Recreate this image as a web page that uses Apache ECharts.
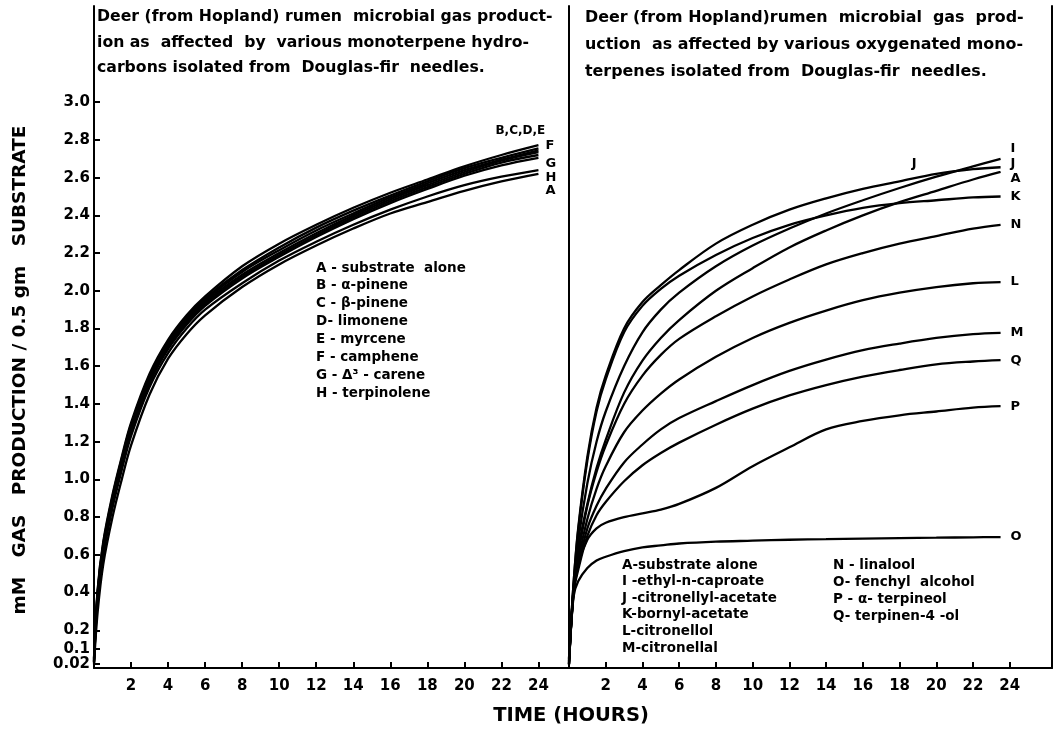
<!DOCTYPE html>
<html><head><meta charset="utf-8">
<script src="https://cdn.jsdelivr.net/npm/echarts@6/dist/echarts.min.js"></script>
<style>html,body{margin:0;padding:0;background:#fff}#c{width:1062px;height:729px}</style>
</head><body><div id="c"></div>
<script>
// ---- tick labels ----
const yTicks = [0.02, 0.1, 0.2, 0.4, 0.6, 0.8, 1.0, 1.2, 1.4, 1.6, 1.8, 2.0, 2.2, 2.4, 2.6, 2.8, 3.0];
const yTickLabels = ['0.02','0.1','0.2','0.4','0.6','0.8','1.0','1.2','1.4','1.6','1.8','2.0','2.2','2.4','2.6','2.8','3.0'];
const xTicks = [2, 4, 6, 8, 10, 12, 14, 16, 18, 20, 22, 24];

// ---- left panel: monoterpene hydrocarbons ----
const hoursLeft = [0, 0.2, 0.5, 1, 1.5, 2, 3, 4, 5, 6, 8, 10, 12, 14, 16, 18, 20, 22, 24];
const leftB = [0.05, 0.42, 0.67, 0.92, 1.12, 1.30, 1.56, 1.74, 1.87, 1.97, 2.13, 2.25, 2.35, 2.44, 2.52, 2.59, 2.66, 2.72, 2.772];
const leftC = [0.05, 0.41, 0.66, 0.91, 1.11, 1.29, 1.55, 1.73, 1.86, 1.96, 2.11, 2.23, 2.335, 2.425, 2.505, 2.58, 2.65, 2.705, 2.755];
const leftD = [0.04, 0.40, 0.65, 0.90, 1.10, 1.28, 1.54, 1.72, 1.85, 1.95, 2.10, 2.215, 2.32, 2.41, 2.495, 2.57, 2.64, 2.695, 2.745];
const leftE = [0.04, 0.40, 0.64, 0.89, 1.09, 1.27, 1.53, 1.71, 1.84, 1.94, 2.085, 2.20, 2.305, 2.40, 2.485, 2.56, 2.63, 2.69, 2.735];
const leftF = [0.03, 0.38, 0.62, 0.88, 1.08, 1.26, 1.52, 1.70, 1.83, 1.93, 2.075, 2.19, 2.295, 2.39, 2.475, 2.55, 2.62, 2.68, 2.72];
const leftG = [0.03, 0.37, 0.61, 0.87, 1.07, 1.25, 1.51, 1.69, 1.82, 1.92, 2.065, 2.18, 2.285, 2.38, 2.465, 2.54, 2.61, 2.665, 2.705];
const leftH = [0.03, 0.36, 0.60, 0.85, 1.05, 1.23, 1.49, 1.67, 1.80, 1.90, 2.04, 2.16, 2.26, 2.35, 2.43, 2.50, 2.56, 2.605, 2.64];
const leftA = [0.02, 0.30, 0.55, 0.80, 1.00, 1.18, 1.45, 1.64, 1.77, 1.87, 2.02, 2.14, 2.24, 2.33, 2.41, 2.47, 2.53, 2.58, 2.62];

// ---- right panel: oxygenated monoterpenes ----
const hoursRight = [0, 0.25, 0.5, 1, 1.5, 2, 3, 4, 5, 6, 8, 10, 12, 14, 16, 18, 20, 22, 23.5];
const rightJ = [0.05, 0.45, 0.74, 1.12, 1.38, 1.55, 1.80, 1.94, 2.03, 2.11, 2.25, 2.35, 2.43, 2.49, 2.54, 2.58, 2.62, 2.645, 2.655];
const rightK = [0.05, 0.45, 0.73, 1.10, 1.36, 1.53, 1.78, 1.92, 2.01, 2.08, 2.19, 2.28, 2.35, 2.40, 2.44, 2.465, 2.48, 2.495, 2.50];
const rightI = [0.04, 0.43, 0.67, 0.98, 1.20, 1.36, 1.60, 1.78, 1.90, 1.99, 2.13, 2.24, 2.33, 2.41, 2.48, 2.545, 2.605, 2.66, 2.70];
const rightA = [0.04, 0.42, 0.63, 0.87, 1.06, 1.21, 1.46, 1.63, 1.75, 1.845, 2.00, 2.12, 2.23, 2.32, 2.40, 2.47, 2.53, 2.59, 2.63];
const rightN = [0.03, 0.42, 0.60, 0.86, 1.04, 1.18, 1.40, 1.55, 1.66, 1.745, 1.865, 1.97, 2.06, 2.14, 2.20, 2.25, 2.29, 2.33, 2.35];
const rightL = [0.03, 0.41, 0.57, 0.79, 0.95, 1.07, 1.25, 1.365, 1.455, 1.53, 1.65, 1.75, 1.83, 1.895, 1.95, 1.99, 2.02, 2.04, 2.046];
const rightM = [0.02, 0.40, 0.54, 0.74, 0.86, 0.95, 1.09, 1.185, 1.265, 1.325, 1.415, 1.50, 1.575, 1.635, 1.685, 1.72, 1.75, 1.77, 1.777];
const rightQ = [0.02, 0.40, 0.52, 0.70, 0.81, 0.88, 0.99, 1.075, 1.14, 1.195, 1.29, 1.375, 1.445, 1.50, 1.545, 1.58, 1.61, 1.625, 1.632];
const rightP = [0.02, 0.40, 0.55, 0.68, 0.74, 0.77, 0.80, 0.82, 0.84, 0.87, 0.955, 1.07, 1.17, 1.265, 1.31, 1.34, 1.36, 1.38, 1.388];
const rightO = [0.02, 0.38, 0.46, 0.53, 0.57, 0.59, 0.62, 0.64, 0.65, 0.66, 0.67, 0.675, 0.68, 0.683, 0.686, 0.689, 0.691, 0.693, 0.694];

// ---- texts ----
const leftTitle = ['Deer (from Hopland) rumen  microbial gas product-',
                   'ion as  affected  by  various monoterpene hydro-',
                   'carbons isolated from  Douglas-fir  needles.'];
const rightTitle = ['Deer (from Hopland)rumen  microbial  gas  prod-',
                    'uction  as affected by various oxygenated mono-',
                    'terpenes isolated from  Douglas-fir  needles.'];
const leftLegend = ['A - substrate  alone', 'B - α-pinene', 'C - β-pinene', 'D- limonene',
                    'E - myrcene', 'F - camphene', 'G - Δ³ - carene', 'H - terpinolene'];
const rightLegend1 = ['A-substrate alone', 'I -ethyl-n-caproate', 'J -citronellyl-acetate',
                      'K-bornyl-acetate', 'L-citronellol', 'M-citronellal'];
const rightLegend2 = ['N - linalool', 'O- fenchyl  alcohol', 'P - α- terpineol', 'Q- terpinen-4 -ol'];
const xTitle = 'TIME (HOURS)';
const yTitle = 'mM   GAS   PRODUCTION / 0.5 gm   SUBSTRATE';

const FONT = 'DejaVu Sans';
const BLACK = '#000';

function pairs(hours, vals) { return hours.map((h, i) => [h, vals[i]]); }

function curve(name, grid, hours, vals, label, offset, size) {
  const s = {
    name: name, type: 'line', xAxisIndex: grid, yAxisIndex: grid,
    data: pairs(hours, vals), smooth: 0.35, showSymbol: false, symbol: 'none',
    lineStyle: { color: BLACK, width: 2.3 }, silent: true, z: 3,
  };
  if (label) {
    s.endLabel = { show: true, formatter: label, color: BLACK, fontFamily: FONT,
      fontWeight: 'bold', fontSize: size || 13, offset: offset || [0, 0], distance: 4 };
  }
  return s;
}

const series = [
  curve('L-A', 0, hoursLeft, leftA, 'A', [3, 17]),
  curve('L-H', 0, hoursLeft, leftH, 'H', [3, 8]),
  curve('L-G', 0, hoursLeft, leftG, 'G', [3, 6]),
  curve('L-F', 0, hoursLeft, leftF, 'F', [3, -9]),
  curve('L-E', 0, hoursLeft, leftE),
  curve('L-D', 0, hoursLeft, leftD),
  curve('L-C', 0, hoursLeft, leftC),
  curve('L-B', 0, hoursLeft, leftB, 'B,C,D,E', [-47, -14], 12),
  curve('R-O', 1, hoursRight, rightO, 'O', [6, 0]),
  curve('R-P', 1, hoursRight, rightP, 'P', [6, 0]),
  curve('R-Q', 1, hoursRight, rightQ, 'Q', [6, 0]),
  curve('R-M', 1, hoursRight, rightM, 'M', [6, 0]),
  curve('R-L', 1, hoursRight, rightL, 'L', [6, 0]),
  curve('R-N', 1, hoursRight, rightN, 'N', [6, 0]),
  curve('R-K', 1, hoursRight, rightK, 'K', [6, 0]),
  curve('R-A', 1, hoursRight, rightA, 'A', [6, 7]),
  curve('R-J', 1, hoursRight, rightJ, 'J', [6, -4]),
  curve('R-I', 1, hoursRight, rightI, 'I', [6, -10]),
];
// mid-curve "J" label on the right panel
series[16].markPoint = {
  symbol: 'circle', symbolSize: 0, silent: true,
  label: { show: true, formatter: 'J', color: BLACK, fontFamily: FONT, fontWeight: 'bold',
           fontSize: 13, position: 'inside', offset: [0, -15] },
  data: [{ coord: [18.8, 2.595] }]
};

function txt(x, y, text, size) {
  return {
    type: 'text', x: x, y: y, silent: true,
    style: { text: text, fill: BLACK, fontFamily: FONT, fontWeight: 'bold',
      fontSize: size, align: 'left', verticalAlign: 'middle',
      textAlign: 'left', textVerticalAlign: 'middle' }
  };
}
const graphics = [];
leftTitle.forEach((t, i) => graphics.push(txt(97, 17 + i * 25.5, t, 15.7)));
rightTitle.forEach((t, i) => graphics.push(txt(585, 18 + i * 27, t, 15.9)));
leftLegend.forEach((t, i) => graphics.push(txt(316, 268 + i * 17.9, t, 13.5)));
rightLegend1.forEach((t, i) => graphics.push(txt(622, 565 + i * 16.6, t, 13.5)));
rightLegend2.forEach((t, i) => graphics.push(txt(833, 565 + i * 17.2, t, 13.5)));
graphics.push({ type: 'text', x: 571, y: 716, silent: true,
  style: { text: xTitle, fill: BLACK, fontFamily: FONT, fontWeight: 'bold', fontSize: 19.5,
           align: 'center', verticalAlign: 'middle', textAlign: 'center', textVerticalAlign: 'middle' } });
graphics.push({ type: 'text', x: 20, y: 370, rotation: Math.PI / 2, silent: true,
  style: { text: yTitle, fill: BLACK, fontFamily: FONT, fontWeight: 'bold', fontSize: 18.5,
           align: 'center', verticalAlign: 'middle', textAlign: 'center', textVerticalAlign: 'middle' } });

const axisLine = { show: true, onZero: false, lineStyle: { color: BLACK, width: 2 } };
const tickLabel = { color: BLACK, fontFamily: FONT, fontWeight: 'bold', fontSize: 15 };

function xAxis(grid, max) {
  return {
    type: 'value', gridIndex: grid, min: 0, max: max, interval: 2,
    axisLine: axisLine, splitLine: { show: false },
    axisTick: { show: true, inside: true, length: 6, customValues: xTicks, lineStyle: { color: BLACK, width: 2 } },
    axisLabel: Object.assign({ show: true, margin: 11, customValues: xTicks }, tickLabel)
  };
}

const option = {
  animation: false,
  backgroundColor: '#fff',
  grid: [
    { left: 94, top: 6, width: 475, height: 662 },
    { left: 569, top: 6, width: 483, height: 662 }
  ],
  xAxis: [ xAxis(0, 25.65), xAxis(1, 26.3) ],
  yAxis: [
    { type: 'value', gridIndex: 0, min: 0, max: 3.51, axisLine: axisLine, splitLine: { show: false },
      axisTick: { show: true, inside: true, length: 6, customValues: yTicks, lineStyle: { color: BLACK, width: 2 } },
      axisLabel: Object.assign({ show: true, margin: 4, customValues: yTicks,
        formatter: function (v) {
          let best = 0;
          yTicks.forEach((t, i) => { if (Math.abs(t - v) < Math.abs(yTicks[best] - v)) best = i; });
          return yTickLabels[best];
        } }, tickLabel) },
    { type: 'value', gridIndex: 1, min: 0, max: 3.51, axisLine: axisLine, splitLine: { show: false },
      axisTick: { show: false }, axisLabel: { show: false } },
    { type: 'value', gridIndex: 1, position: 'right', min: 0, max: 3.51, axisLine: axisLine,
      splitLine: { show: false }, axisTick: { show: false }, axisLabel: { show: false } }
  ],
  series: series,
  graphic: graphics
};

const chart = echarts.init(document.getElementById('c'), null, { renderer: 'canvas' });
chart.setOption(option);
</script>
</body></html>
